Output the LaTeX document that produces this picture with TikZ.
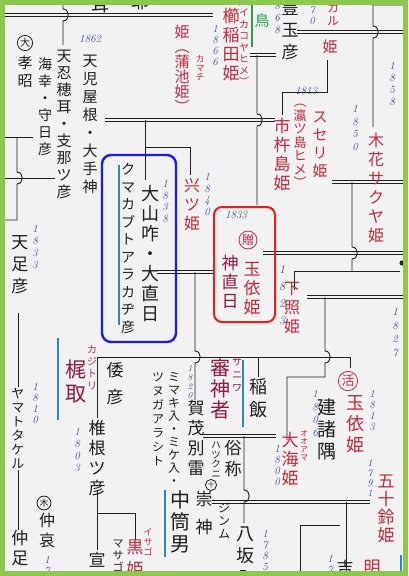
\documentclass[tikz,border=0pt]{standalone}
\usepackage{fontspec}
\newfontfamily\jp{Noto Sans CJK JP}
\definecolor{ink}{HTML}{1E1E1E}
\definecolor{hred}{HTML}{C4283C}
\definecolor{maroon}{HTML}{8E1A44}
\definecolor{nblue}{HTML}{3A4A8E}
\definecolor{bbox}{HTML}{1A1AF0}
\definecolor{rbox}{HTML}{F01A1A}
\definecolor{bline}{HTML}{2A88C8}
\definecolor{ggreen}{HTML}{2AA050}
\definecolor{frame}{HTML}{8CC84B}
\definecolor{bgc}{HTML}{F2F2F2}
\def\vstack#1{\vsfirst#1\relax}
\def\vsfirst#1{#1\vsrest}
\def\vsrest#1{\ifx#1\relax\else\\#1\expandafter\vsrest\fi}
\tikzset{
  vc/.style n args={3}{anchor=north, align=center, inner sep=0pt, font=\jp\fontsize{#1}{#2}\selectfont, text=#3},
  nm/.style 2 args={anchor=north, align=center, inner sep=0pt, font=\fontsize{#1}{#2}\selectfont\itshape, text=nblue},
  marr/.style={draw=ink, line width=0.9pt, double=bgc, double distance=1.4pt},
  ln/.style={draw=ink, line width=0.9pt},
  bl/.style={draw=bline, line width=1.2pt},
  bump/.style={insert path={.. controls +(7,0) and +(7,0) .. ++(0,12)}},
  circ/.style={circle, draw=#1, text=#1, line width=0.8pt, inner sep=0.6pt},
}
\begin{document}
\begin{tikzpicture}[x=1pt,y=-1pt]
\useasboundingbox (0,0) rectangle (408,576);
\fill[bgc] (0,0) rectangle (408,576);
\begin{scope}
\clip (4,4) rectangle (404,572);
% ---------- marriage lines ----------
\coordinate (m1a) at (5,15);   \coordinate (m1b) at (213,15);
\coordinate (m2a) at (105,120); \coordinate (m2b) at (275,120);
\coordinate (m3a) at (157,272); \coordinate (m3b) at (215,272);
\coordinate (m4a) at (263,253); \coordinate (m4b) at (408,253);
\coordinate (m5a) at (307,297); \coordinate (m5b) at (408,297);
\coordinate (m6a) at (332,182); \coordinate (m6b) at (408,182);
\coordinate (m7a) at (297,32);  \coordinate (m7b) at (408,32);
\coordinate (m8a) at (250,55);  \coordinate (m8b) at (276,55);
\coordinate (m9a) at (203,436); \coordinate (m9b) at (276,436);
\coordinate (m10a) at (212,502); \coordinate (m10b) at (370,502);
\foreach \a/\b in {m1a/m1b,m2a/m2b,m3a/m3b,m4a/m4b,m5a/m5b,m6a/m6b,m7a/m7b,m8a/m8b,m9a/m9b,m10a/m10b}
  \draw[marr] (\a) -- (\b);
% ---------- descent lines ----------
\coordinate (v1a) at (63,0);   \coordinate (v1b) at (63,45);
\draw[ln] (v1a) -- ++(0,9) [bump] -- (v1b);
\coordinate (v2a) at (145,120); \coordinate (v2b) at (145,180);
\draw[ln] (v2a) -- (v2b);
\coordinate (v3a) at (145,147); \coordinate (v3b) at (190,147); \coordinate (v3c) at (190,175);
\draw[ln] (v3a) -- (v3b) -- (v3c);
\coordinate (l1a) at (5,137); \coordinate (l1b) at (33,137);
\draw[ln] (l1a) -- (l1b);
\coordinate (l2a) at (17,137); \coordinate (l2b) at (17,220); \coordinate (l2c) at (5,220);
\draw[ln] (l2a) -- ++(0,35) [bump] -- (l2b) -- (l2c);
\coordinate (l3a) at (5,178); \coordinate (l3b) at (55,178);
\draw[ln] (l3a) -- (l3b);
\coordinate (l4a) at (18,313); \coordinate (l4b) at (18,387);
\coordinate (l4c) at (18,470); \coordinate (l4d) at (18,530);
\draw[ln] (l4a) -- (l4b); \draw[ln] (l4c) -- (l4d);
\coordinate (v6a) at (195,272); \coordinate (v6b) at (195,400);
\draw[ln] (v6a) -- ++(0,79) [bump] -- (v6b);
\coordinate (h7a) at (97,357); \coordinate (h7b) at (350,357);
\draw[ln] (h7a) -- (h7b);
\coordinate (v8a) at (97,418); \coordinate (v8b) at (97,490); \coordinate (v8c) at (97,550);
\draw[ln] (h7a) -- (v8a); \draw[ln] (v8b) -- (v8c);
\coordinate (v8d) at (258,357); \coordinate (v8e) at (258,377);
\draw[ln] (v8d) -- (v8e);
\coordinate (v8f) at (350,368);
\draw[ln] (h7b) -- (v8f);
\coordinate (v9a) at (325,297); \coordinate (v9b) at (325,377);
\coordinate (v9c) at (287,377); \coordinate (v9d) at (287,440);
\draw[ln] (v9a) -- ++(0,54) [bump] -- (v9b) -- (v9c) -- (v9d);
\coordinate (v16a) at (352,182); \coordinate (v16b) at (352,271);
\draw[ln] (v16a) -- ++(0,65) [bump] -- (v16b);
\coordinate (h16a) at (294,271); \coordinate (h16b) at (400,271); \coordinate (h16c) at (294,290);
\draw[ln] (h16a) -- (h16b); \draw[ln] (h16a) -- (h16c);
\node[circle, fill=ink, inner sep=1.8pt] (dot) at (402,263) {};
\coordinate (t1a) at (373,5); \coordinate (t1b) at (408,5); \coordinate (t1c) at (373,127);
\draw[ln] (t1b) -- (t1a) -- ++(0,21) [bump] -- (t1c);
\coordinate (k1a) at (327,60); \coordinate (k1b) at (327,92);
\coordinate (k1c) at (282,92); \coordinate (k1d) at (282,115);
\draw[ln] (k1a) -- (k1b) -- (k1c) -- (k1d);
\coordinate (v15a) at (257,55); \coordinate (v15b) at (257,205);
\draw[ln] (v15a) -- ++(0,59) [bump] -- (v15b);
\coordinate (v10a) at (244,436); \coordinate (v10b) at (244,523);
\draw[ln] (v10a) -- ++(0,54) [bump] -- (v10b);
\coordinate (l11a) at (97,513); \coordinate (l11b) at (135,513); \coordinate (l11c) at (135,540);
\draw[ln] (l11a) -- (l11b) -- (l11c);
\coordinate (l12a) at (346,502); \coordinate (l12b) at (346,576);
\draw[ln] (l12a) -- (l12b);
\coordinate (l13a) at (300,576); \coordinate (l13b) at (300,525); \coordinate (l13c) at (340,525);
\draw[ln] (l13a) -- (l13b) -- (l13c);
% ---------- blue and green strokes ----------
\coordinate (b1a) at (119,165); \coordinate (b1b) at (119,325);
\coordinate (b2a) at (58,338);  \coordinate (b2b) at (58,420);
\coordinate (b3a) at (243,360); \coordinate (b3b) at (243,427);
\coordinate (b4a) at (165,490); \coordinate (b4b) at (165,557);
\coordinate (b5a) at (401,555); \coordinate (b5b) at (401,576);
\foreach \a/\b in {b1a/b1b,b2a/b2b,b3a/b3b,b4a/b4b,b5a/b5b} \draw[bl] (\a) -- (\b);
\coordinate (g1a) at (252,0); \coordinate (g1b) at (252,47);
\draw[draw=ggreen, line width=1.8pt] (g1a) -- (g1b);
% ---------- boxes ----------
\draw[draw=bbox, line width=2.4pt, rounded corners=9pt] (102,155) rectangle (176,342);
\draw[draw=rbox, line width=2pt, rounded corners=8pt] (214,207) rectangle (275,322);
% ---------- black names ----------
\node[vc={18}{18}{ink}] (mimi) at (100,-3) {耳};
\node[vc={18}{18}{ink}] (ya) at (140,-6) {耶};
\node[circ=ink, font=\jp\fontsize{10}{10}\selectfont] (c5) at (25,43) {大};
\node[vc={15}{18}{ink}] (kosho) at (25,56) {\vstack{孝昭}};
\node[vc={14}{17}{ink}] (umisachi) at (45,58) {\vstack{海幸・守日彦}};
\node[vc={15}{17}{ink}] (oshiho) at (64,50) {\vstack{天忍穂耳・支那ツ彦}};
\node[vc={15}{18}{ink}] (koyane) at (90,55) {\vstack{天児屋根・大手神}};
\node[vc={17}{22}{ink}] (tarashi) at (20,235) {\vstack{天足彦}};
\node[vc={13}{14}{ink}] (yamato) at (18,388) {\vstack{ヤマトタケル}};
\node[vc={17}{20}{ink}] (nakatari) at (20,530) {\vstack{仲足}};
\node[circ=ink, font=\jp\fontsize{9}{9}\selectfont] (c14) at (44,503) {木};
\node[vc={16}{20}{ink}] (chuai) at (47,513) {\vstack{仲哀}};
\node[vc={17}{27}{ink}] (yamatohiko) at (115,362) {\vstack{倭彦}};
\node[vc={17}{20}{ink}] (shiine) at (97,420) {\vstack{椎根ツ彦}};
\node[vc={17}{20}{ink}] (sen) at (97,552) {宣};
\node[vc={11}{12}{ink}] (masago) at (118,540) {\vstack{マサゴ}};
\node[vc={18}{20}{ink}] (oyamakui) at (150,185) {\vstack{大山咋・大直日}};
\node[vc={14}{17.5}{ink}] (kumakabuto) at (128,163) {\vstack{クマカブトアラカヂ彦}};
\node[vc={12}{14}{ink}] (tsunuga) at (158,372) {\vstack{ツヌガアラシト}};
\node[vc={12}{13}{ink}] (mimaki) at (174,372) {\vstack{ミマキ入・ミケ入・}};
\node[vc={20}{22}{ink}] (nakatsutsu) at (180,490) {\vstack{中筒男}};
\node[vc={17}{20}{ink}] (kamo) at (196,400) {\vstack{賀茂別雷}};
\node[circ=ink, font=\jp\fontsize{7}{7}\selectfont] (c10) at (211,485) {十};
\node[vc={17}{28}{ink}] (sujin) at (204,491) {\vstack{崇神}};
\node[vc={18}{23}{ink}] (inai) at (258,378) {\vstack{稲飯}};
\node[vc={17}{21}{ink}] (zokusho) at (233,440) {\vstack{俗称}};
\node[vc={9.5}{9.5}{ink}] (hatsukuni) at (216,442) {\vstack{ハツクニ}};
\node[vc={12}{13}{ink}] (jinmu) at (224,503) {\vstack{ジンム}};
\node[vc={18}{22}{ink}] (yasakairi) at (245,527) {\vstack{八坂入}};
\node[vc={19}{22}{ink}] (takemoro) at (327,398) {\vstack{建諸隅}};
\node[vc={17}{20}{ink}] (kichi) at (345,560) {吉};
\node[vc={17}{22}{ink}] (toyotama) at (290,0) {\vstack{豊玉彦}};
% ---------- red names ----------
\node[vc={15}{15}{hred}] (kamachi) at (182,25) {\vstack{姫︵蒲池姫︶}};
\node[vc={9}{9}{hred}] (kamachiR) at (200,55) {\vstack{カマチ}};
\node[vc={17}{19}{hred}] (kushinada) at (231,8) {\vstack{櫛稲田姫}};
\node[vc={10}{11.5}{hred}] (ikako) at (244,3) {\vstack{︵イカコヤヒメ︶}};
\node[vc={17}{19}{hred}] (ichiki) at (282,118) {\vstack{市杵島姫}};
\node[vc={13}{13.5}{hred}] (okitsu) at (300,104) {\vstack{︵瀛ツ島ヒメ︶}};
\node[vc={15}{18}{hred}] (suseri) at (320,112) {\vstack{スセリ姫}};
\node[vc={12}{13}{hred}] (karu) at (333,3) {\vstack{カル}};
\node[vc={15}{15}{hred}] (karuhime) at (330,40) {姫};
\node[vc={16}{19}{hred}] (konohana) at (376,133) {\vstack{木花サクヤ姫}};
\node[vc={16}{19}{hred}] (kotsu) at (192,178) {\vstack{兴ツ姫}};
\node[circ=hred, font=\jp\fontsize{12}{12}\selectfont] (zo) at (248,240) {贈};
\node[vc={17}{19}{maroon}] (kaminao) at (230,255) {\vstack{神直日}};
\node[vc={17}{19}{hred}] (tamayori1) at (252,262) {\vstack{玉依姫}};
\node[vc={16}{19}{hred}] (shitateru) at (292,282) {\vstack{下照姫}};
\node[circ=hred, font=\jp\fontsize{13}{13}\selectfont] (katsu) at (348,381) {活};
\node[vc={18}{21}{hred}] (tamayori2) at (355,395) {\vstack{玉依姫}};
\node[vc={17}{19}{hred}] (oama) at (290,432) {\vstack{大海姫}};
\node[vc={8}{8}{hred}] (oamaR) at (304,430) {\vstack{オオアマ}};
\node[vc={17}{18}{hred}] (isuzu) at (386,475) {\vstack{五十鈴姫}};
\node[vc={21}{24}{maroon}] (kajitori) at (76,360) {\vstack{梶取}};
\node[vc={10}{12}{hred}] (kajitoriR) at (92,345) {\vstack{カジトリ}};
\node[vc={20}{21}{maroon}] (saniwa) at (220,358) {\vstack{審神者}};
\node[vc={10}{13}{maroon}] (saniwaR) at (237,358) {\vstack{サニワ}};
\node[vc={17}{22}{hred}] (kuro) at (135,540) {\vstack{黒姫}};
\node[vc={9}{10}{hred}] (isagoR) at (148,528) {\vstack{イサゴ}};
\node[vc={17}{20}{hred}] (aki) at (372,560) {明};
\node[vc={15}{18}{ggreen}] (tori) at (262,14) {鳥};
% ---------- blue numbers ----------
\node[nm={11}{12}] (n1862) at (90,35) {1862};
\node[nm={11}{11}] (n1866) at (215,25) {\vstack{1866}};
\node[nm={11}{12}] (n868) at (277,2) {\vstack{868}};
\node[nm={11}{11}] (n870) at (312,-5) {\vstack{870}};
\node[nm={11}{12}] (n1813a) at (306,87) {1813};
\node[nm={11}{12.5}] (n1850) at (355,105) {\vstack{1850}};
\node[nm={11}{12}] (n1858) at (392,62) {\vstack{1858}};
\node[nm={11}{11.5}] (n1840) at (207,173) {\vstack{1840}};
\node[nm={11}{11.5}] (n1838) at (165,180) {\vstack{1838}};
\node[nm={11}{12}] (n1833a) at (35,225) {\vstack{1833}};
\node[nm={11}{12}] (n1833b) at (236,211) {1833};
\node[nm={12}{17}] (n1823) at (282,265) {\vstack{1823}};
\node[nm={11}{13.5}] (n1827) at (395,308) {\vstack{1827}};
\node[nm={11}{11}] (n1810) at (35,383) {\vstack{1810}};
\node[nm={11}{12}] (n1803) at (77,428) {\vstack{1803}};
\node[nm={9}{9}] (n1820) at (190,365) {\vstack{1820}};
\node[nm={11}{13}] (n1806) at (315,390) {\vstack{1806}};
\node[nm={11}{11}] (n1800) at (277,445) {\vstack{1800}};
\node[nm={11}{11}] (n1813b) at (372,390) {\vstack{1813}};
\node[nm={10}{10}] (n1791) at (370,460) {\vstack{1791}};
\node[nm={11}{11}] (n1785) at (265,530) {\vstack{1785}};
\node[nm={11}{11}] (n17a) at (330,555) {\vstack{17}};
\node[nm={11}{11}] (n17b) at (47,556) {\vstack{17}};
\end{scope}
\draw[draw=frame, line width=5pt] (2.5,2.5) rectangle (405.5,573.5);
\end{tikzpicture}
\end{document}
